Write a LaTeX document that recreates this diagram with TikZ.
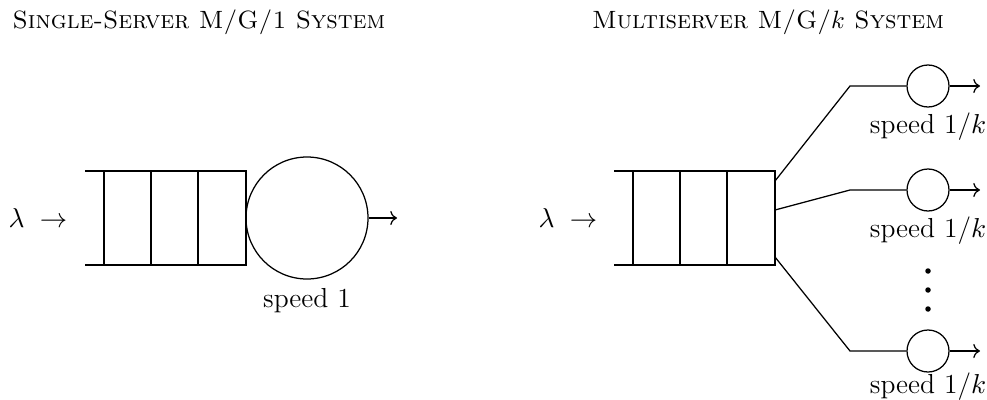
\documentclass[tikz,border=0pt]{standalone}
\usepackage{tikz}
\usetikzlibrary{arrows.meta, positioning}

\tikzset{
  server/.style={draw, circle, inner sep=0pt},
  title/.style={font=\scshape},
  label/.style={font=\fontsize{11}{13}\selectfont},
  outflow/.style={->}
}

\begin{document}
\begin{tikzpicture}[x=0.4pt, y=-0.4pt, line width=0.5pt]
  \useasboundingbox (0,0) rectangle (987,400);

  % titles
  \node[title] (tsingle) at (199,22) {Single-Server M/G/1 System};
  \node[title] (tmulti) at (768,22) {Multiserver M/G/$k$ System};

  % single-server queue
  \draw (85,171) -- (246,171) -- (246,265) -- (85,265);
  \foreach \x in {104, 151, 198} {
    \draw (\x,171) -- (\x,265);
  }
  \node[label] (lamone) at (38,218) {$\lambda\;\rightarrow$};
  \node[server, minimum size=48.8pt] (big) at (307,218) {};
  \coordinate (bigout) at (397,218);
  \draw[outflow] (big.east) -- (bigout);
  \node[label, below=0pt of big] (bigspeed) {speed 1};

  % multiserver queue
  \draw (614,171) -- (775,171) -- (775,265) -- (614,265);
  \foreach \x in {633, 680, 727} {
    \draw (\x,171) -- (\x,265);
  }
  \node[label] (lamk) at (568,218) {$\lambda\;\rightarrow$};

  \foreach \n/\y/\qy in {a/86/181, b/190/210, c/351/257} {
    \node[server, minimum size=16.8pt] (srv\n) at (928,\y) {};
    \coordinate (q\n) at (775,\qy);
    \coordinate (bend\n) at (850,\y);
    \coordinate (out\n) at (980,\y);
    \draw (q\n) -- (bend\n) -- (srv\n.west);
    \draw[outflow] (srv\n.east) -- (out\n);
  }
  \node[label, below=-1.5pt of srva] (speeda) {speed 1/$k$};
  \node[label, below=-1.5pt of srvb] (speedb) {speed 1/$k$};
  \node[label, below=-3.5pt of srvc] (speedc) {speed 1/$k$};

  % dots between servers
  \foreach \y in {271, 290, 309} {
    \fill (928,\y) circle (1.1pt);
  }
\end{tikzpicture}
\end{document}
